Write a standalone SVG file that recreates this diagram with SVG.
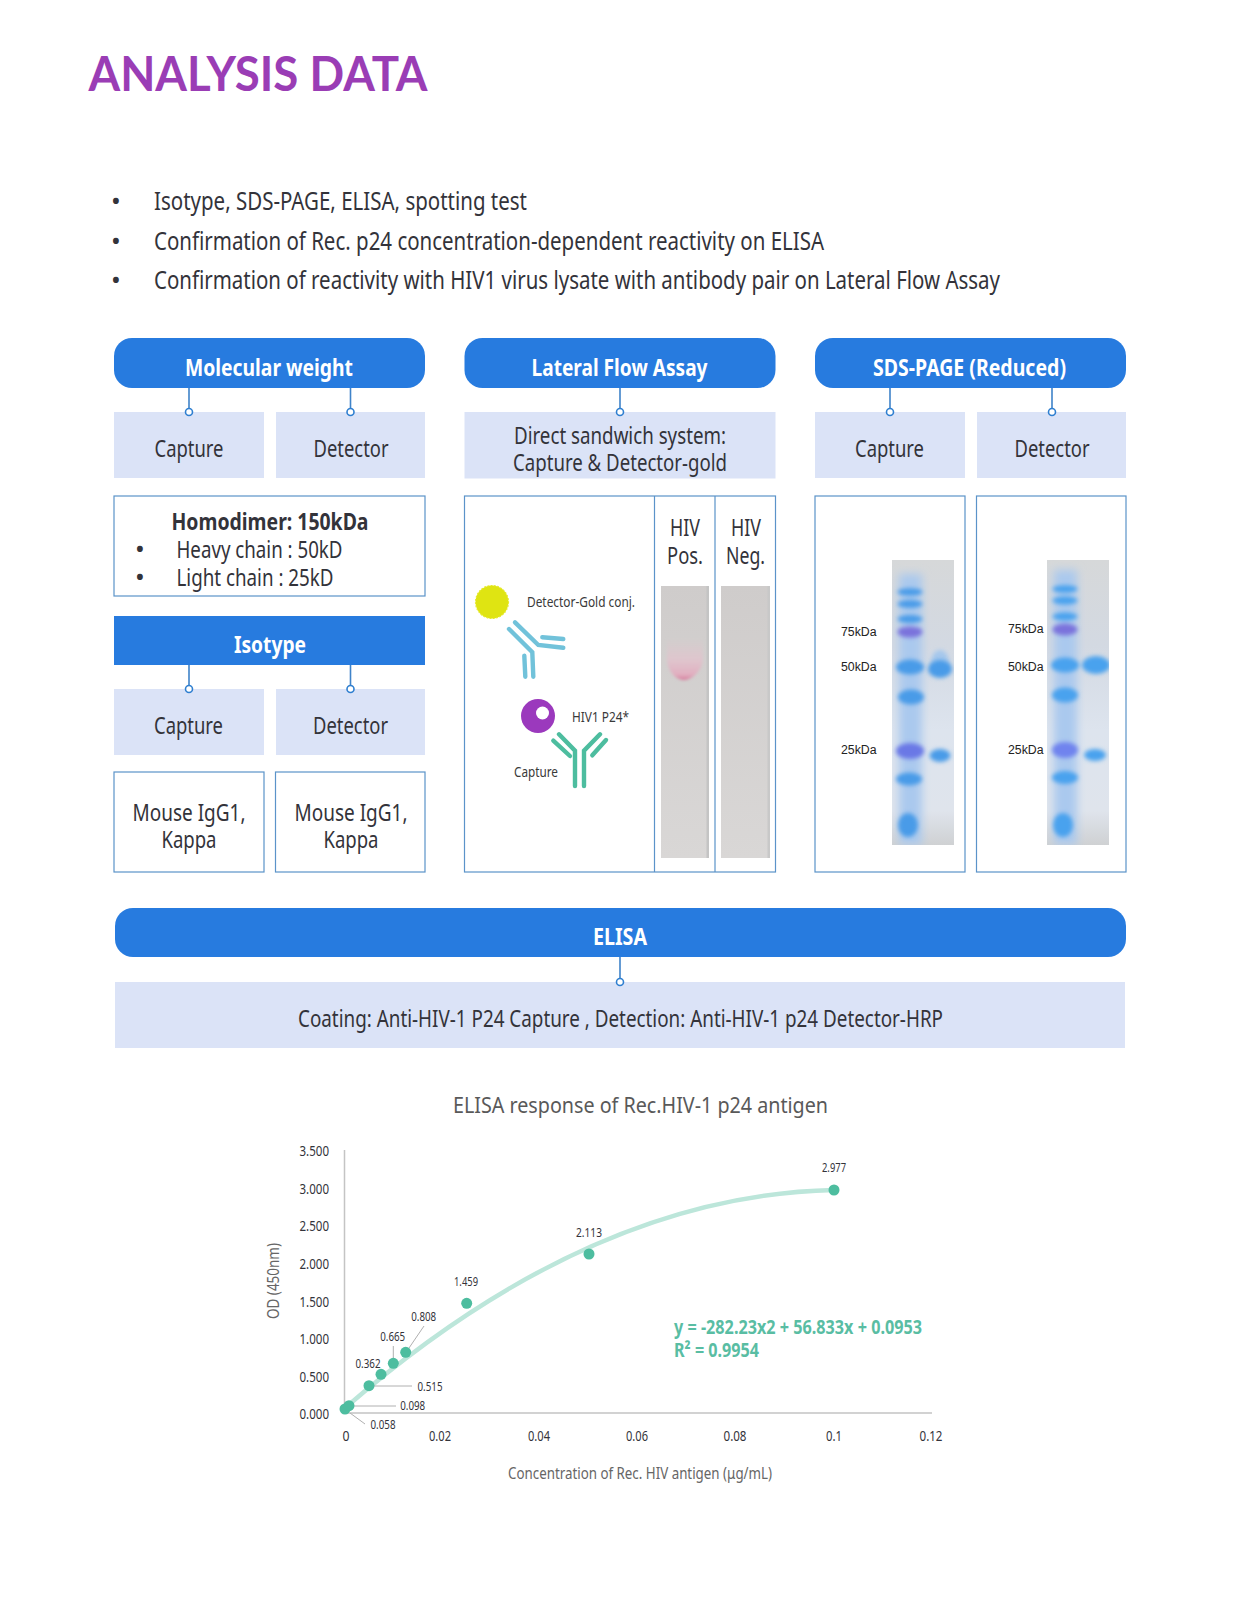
<svg xmlns="http://www.w3.org/2000/svg" width="1241" height="1615" viewBox="0 0 1241 1615">
<defs>
<style>
text{font-family:"Noto Sans","Open Sans",sans-serif;fill:#33333a;}
.hd{fill:#277bdf;}
.sub{fill:#dbe3f7;}
.box{fill:#fff;stroke:#5b93c9;stroke-width:1.2;}
.w{fill:#fff;font-weight:700;font-size:23px;}
.m{font-size:23.5px;}
.c{stroke:#3f83c9;stroke-width:1.6;fill:none;}
.dot{fill:#fff;stroke:#2f7fd0;stroke-width:1.6;}
.tk{font-size:14px;fill:#6f6f6f;}
.dl{font-size:13px;fill:#858585;}
.ld{stroke:#b0b0b0;stroke-width:1;fill:none;}
.pt{fill:#4dbd9f;}
.ax{font-size:16.500px;fill:#666;}
.eq{font-size:20px;font-weight:700;fill:#59bda3;}
.ab{fill:none;stroke-width:4.400;stroke-linecap:round;stroke-linejoin:miter;}
.lb{font-family:"Liberation Sans",Arial,sans-serif;font-size:12.300px;fill:#222;}
.sm{font-size:14.500px;fill:#3a3a3a;}
</style>
<linearGradient id="gel" x1="0" y1="0" x2="0" y2="1">
<stop offset="0" stop-color="#d6d8d9"/><stop offset="0.3" stop-color="#d3d9e2"/><stop offset="0.6" stop-color="#dde4ee"/><stop offset="0.88" stop-color="#dfe4ec"/><stop offset="1" stop-color="#cfd1d3"/>
</linearGradient>
<linearGradient id="strip" x1="0" y1="0" x2="0" y2="1">
<stop offset="0" stop-color="#cfcccb"/><stop offset="1" stop-color="#d9d7d6"/>
</linearGradient>
<linearGradient id="pink" x1="0" y1="0" x2="0" y2="1">
<stop offset="0" stop-color="#e3c3cd" stop-opacity="0"/><stop offset="0.5" stop-color="#e4c2cd" stop-opacity="0.7"/><stop offset="0.88" stop-color="#e1adbf"/><stop offset="1" stop-color="#d5799a"/>
</linearGradient>
<filter id="b1" x="-30%" y="-30%" width="160%" height="160%"><feGaussianBlur stdDeviation="1.500"/></filter>
<filter id="b2" x="-40%" y="-80%" width="180%" height="260%"><feGaussianBlur stdDeviation="1.900"/></filter>
<filter id="b4" x="-50%" y="-20%" width="200%" height="140%"><feGaussianBlur stdDeviation="4"/></filter>
<clipPath id="g1"><rect x="892" y="560" width="62" height="285"/></clipPath>
<clipPath id="g2"><rect x="1047" y="560" width="62" height="285"/></clipPath>
</defs>
<rect width="1241" height="1615" fill="#fff"/>

<text id="title" x="88.500" y="90.500" textLength="339" lengthAdjust="spacingAndGlyphs" style="font-family:Lato,sans-serif;font-weight:700;font-size:47px;fill:#9a3db5">ANALYSIS DATA</text>

<g id="bullets">
<text x="111" y="210" font-size="26">•</text><text x="154" y="210" font-size="24.500" textLength="373" lengthAdjust="spacingAndGlyphs">Isotype, SDS-PAGE, ELISA, spotting test</text>
<text x="111" y="250" font-size="26">•</text><text x="154" y="250" font-size="24.500" textLength="670" lengthAdjust="spacingAndGlyphs">Confirmation of Rec. p24 concentration-dependent reactivity on ELISA</text>
<text x="111" y="289" font-size="26">•</text><text x="154" y="289" font-size="24.500" textLength="846" lengthAdjust="spacingAndGlyphs">Confirmation of reactivity with HIV1 virus lysate with antibody pair on Lateral Flow Assay</text>
</g>

<g id="connectors">
<path class="c" d="M189 388V412M350.500 388V412M620 388V412M890 388V412M1052 388V412M189 665V689M350.500 665V689M620 957V982"/>
</g>

<g id="molecular-weight"><rect class="hd" x="114" y="338" width="311" height="50" rx="18"/><text class="w" x="185" y="376" textLength="168" lengthAdjust="spacingAndGlyphs">Molecular weight</text></g>
<g id="mw-capture"><rect class="sub" x="114" y="412" width="150" height="66"/><text class="m" x="154.500" y="456.500" textLength="69" lengthAdjust="spacingAndGlyphs">Capture</text></g>
<g id="mw-detector"><rect class="sub" x="276" y="412" width="149" height="66"/><text class="m" x="313.500" y="456.500" textLength="75" lengthAdjust="spacingAndGlyphs">Detector</text></g>
<g id="homodimer"><rect class="box" x="114" y="496" width="311" height="100"/>
<text x="171.500" y="530" font-size="23.500" font-weight="700" textLength="197" lengthAdjust="spacingAndGlyphs">Homodimer: 150kDa</text>
<text x="135" y="558" font-size="26">•</text><text class="m" x="176.500" y="557.500" textLength="166" lengthAdjust="spacingAndGlyphs">Heavy chain : 50kD</text>
<text x="135" y="586" font-size="26">•</text><text class="m" x="176.500" y="585.500" textLength="157" lengthAdjust="spacingAndGlyphs">Light chain : 25kD</text></g>
<g id="isotype"><rect class="hd" x="114" y="616" width="311" height="49"/><text class="w" x="234" y="653" textLength="72" lengthAdjust="spacingAndGlyphs">Isotype</text></g>
<g id="iso-capture"><rect class="sub" x="114" y="689" width="150" height="66"/><text class="m" x="154" y="734" textLength="69" lengthAdjust="spacingAndGlyphs">Capture</text></g>
<g id="iso-detector"><rect class="sub" x="276" y="689" width="149" height="66"/><text class="m" x="313" y="734" textLength="75" lengthAdjust="spacingAndGlyphs">Detector</text></g>
<g id="iso-cap-result"><rect class="box" x="114" y="772" width="150" height="100"/><text class="m" x="132.500" y="821" textLength="113" lengthAdjust="spacingAndGlyphs">Mouse IgG1,</text><text class="m" x="161.500" y="848" textLength="55" lengthAdjust="spacingAndGlyphs">Kappa</text></g>
<g id="iso-det-result"><rect class="box" x="275.500" y="772" width="149.500" height="100"/><text class="m" x="294.500" y="821" textLength="113" lengthAdjust="spacingAndGlyphs">Mouse IgG1,</text><text class="m" x="323.500" y="848" textLength="55" lengthAdjust="spacingAndGlyphs">Kappa</text></g>

<g id="lfa"><rect class="hd" x="464.500" y="338" width="311" height="50" rx="18"/><text class="w" x="531.500" y="376" textLength="176" lengthAdjust="spacingAndGlyphs">Lateral Flow Assay</text></g>
<g id="lfa-sub"><rect class="sub" x="464.500" y="412" width="311" height="66.500"/><text class="m" x="514" y="444" textLength="212" lengthAdjust="spacingAndGlyphs">Direct sandwich system:</text><text class="m" x="513" y="471" textLength="214" lengthAdjust="spacingAndGlyphs">Capture &amp; Detector-gold</text></g>
<g id="lfa-panel"><rect class="box" x="464.500" y="496" width="311" height="376"/><path class="box" d="M654.500 496V872M715 496V872" fill="none"/>
<circle cx="492" cy="602" r="16.500" fill="#dfe412" stroke="#e6ea2c" stroke-width="1.200" stroke-dasharray="1.800 1.500"/>
<text class="sm" x="527" y="606.500" textLength="108" lengthAdjust="spacingAndGlyphs">Detector-Gold conj.</text>
<g class="ab" stroke="#71c2da"><path d="M509 629L532.300 652.300L533.300 676.700"/><path d="M515 622.300L538.300 645L563.300 647.700"/><path d="M542.300 637.300L563.300 639"/><path d="M524.300 655.700L525.300 676.700"/></g>
<circle cx="538" cy="716" r="17" fill="#9b39bd"/><circle cx="542.500" cy="713" r="6.500" fill="#fff"/>
<text class="sm" x="572" y="722" textLength="57" lengthAdjust="spacingAndGlyphs">HIV1 P24*</text>
<text class="sm" x="514" y="777" textLength="44" lengthAdjust="spacingAndGlyphs">Capture</text>
<g class="ab" stroke="#4dbd9f"><path d="M559 734.300L575 750.700V786"/><path d="M553.300 740.700L570 756"/><path d="M600 734.300L584 750.700V786"/><path d="M606 740L592.300 755.300"/></g>
<text class="m" x="670" y="536" textLength="30" lengthAdjust="spacingAndGlyphs">HIV</text><text class="m" x="667" y="564" textLength="36" lengthAdjust="spacingAndGlyphs">Pos.</text>
<text class="m" x="731" y="536" textLength="30" lengthAdjust="spacingAndGlyphs">HIV</text><text class="m" x="726" y="564" textLength="39" lengthAdjust="spacingAndGlyphs">Neg.</text>
<rect x="661" y="586" width="48" height="272" fill="url(#strip)"/>
<rect x="706.500" y="586" width="2.500" height="272" fill="#c4c4c4"/>
<path d="M667 638H703V658C703 670 692 680 684 680C675 680 667 670 667 658Z" fill="url(#pink)" filter="url(#b1)"/>
<rect x="721" y="586" width="49" height="272" fill="url(#strip)"/>
<rect x="767.500" y="586" width="2.500" height="272" fill="#c8c8c8"/>
</g>

<g id="sds"><rect class="hd" x="815" y="338" width="311" height="50" rx="18"/><text class="w" x="873" y="376" textLength="193" lengthAdjust="spacingAndGlyphs">SDS-PAGE (Reduced)</text></g>
<g id="sds-capture"><rect class="sub" x="815" y="412" width="150" height="66"/><text class="m" x="855" y="456.500" textLength="69" lengthAdjust="spacingAndGlyphs">Capture</text></g>
<g id="sds-detector"><rect class="sub" x="977" y="412" width="149" height="66"/><text class="m" x="1014.500" y="456.500" textLength="75" lengthAdjust="spacingAndGlyphs">Detector</text></g>
<g id="sds-cap-panel"><rect class="box" x="815" y="496" width="150" height="376"/>
<rect x="892" y="560" width="62" height="285" fill="url(#gel)"/>
<g clip-path="url(#g1)">
<rect x="899" y="574" width="23" height="271" fill="#aac9ee" filter="url(#b4)"/>
<g fill="#4a9be8" filter="url(#b2)">
<ellipse cx="910" cy="592" rx="12.500" ry="3.800"/><ellipse cx="910" cy="604" rx="12.500" ry="4"/><ellipse cx="910" cy="619" rx="12.500" ry="4"/>
<ellipse cx="910" cy="632" rx="12.500" ry="5.500" fill="#7a72dc"/><ellipse cx="910" cy="667" rx="14" ry="7.500"/><ellipse cx="911" cy="697" rx="13" ry="7.500"/>
<ellipse cx="910" cy="751" rx="14" ry="8" fill="#6a78e6"/><ellipse cx="909" cy="779" rx="13" ry="6.500"/><ellipse cx="908" cy="825" rx="10" ry="12"/>
<ellipse cx="940" cy="755.500" rx="10.500" ry="6.500"/></g>
<ellipse cx="940" cy="662" rx="9" ry="12" fill="#a5c7ec" filter="url(#b2)"/>
<ellipse cx="940" cy="669" rx="12" ry="9" fill="#4a9be8" filter="url(#b2)"/>
</g>
<text class="lb" x="841" y="636">75kDa</text><text class="lb" x="841" y="671">50kDa</text><text class="lb" x="841" y="754">25kDa</text></g>
<g id="sds-det-panel"><rect class="box" x="976.500" y="496" width="149.500" height="376"/>
<rect x="1047" y="560" width="62" height="285" fill="url(#gel)"/>
<g clip-path="url(#g2)">
<rect x="1054" y="570" width="23" height="275" fill="#aac9ee" filter="url(#b4)"/>
<g fill="#4aa2ee" filter="url(#b2)">
<ellipse cx="1065" cy="589" rx="12.500" ry="3.800"/><ellipse cx="1065" cy="600.500" rx="12.500" ry="4"/><ellipse cx="1065" cy="616.500" rx="12.500" ry="4"/>
<ellipse cx="1065" cy="629.500" rx="12.500" ry="6" fill="#7a72dc"/><ellipse cx="1065" cy="665" rx="14" ry="7.500"/><ellipse cx="1065" cy="695" rx="13" ry="7.500"/>
<ellipse cx="1065" cy="750" rx="13" ry="8" fill="#6f83ee"/><ellipse cx="1065" cy="777.500" rx="13" ry="6.500"/><ellipse cx="1063" cy="825" rx="10" ry="12"/>
<ellipse cx="1096" cy="665" rx="14" ry="9"/><ellipse cx="1095" cy="755" rx="11" ry="6"/></g>
</g>
<text class="lb" x="1008" y="633">75kDa</text><text class="lb" x="1008" y="671">50kDa</text><text class="lb" x="1008" y="754">25kDa</text></g>

<g id="elisa"><rect class="hd" x="115" y="908" width="1011" height="49" rx="18"/><text class="w" x="593" y="945" textLength="54" lengthAdjust="spacingAndGlyphs">ELISA</text></g>
<g id="elisa-sub"><rect class="sub" x="115" y="982" width="1010" height="66"/><text class="m" x="298" y="1027" textLength="645" lengthAdjust="spacingAndGlyphs">Coating: Anti-HIV-1 P24 Capture , Detection: Anti-HIV-1 p24 Detector-HRP</text></g>

<g id="connector-dots">
<circle class="dot" cx="189" cy="412" r="3.500"/><circle class="dot" cx="350.500" cy="412" r="3.500"/><circle class="dot" cx="620" cy="412" r="3.500"/><circle class="dot" cx="890" cy="412" r="3.500"/><circle class="dot" cx="1052" cy="412" r="3.500"/><circle class="dot" cx="189" cy="689" r="3.500"/><circle class="dot" cx="350.500" cy="689" r="3.500"/><circle class="dot" cx="620" cy="982" r="3.500"/>
</g>

<g id="chart">
<text x="453" y="1112.500" font-size="22.500" style="fill:#595959" textLength="375" lengthAdjust="spacingAndGlyphs">ELISA response of Rec.HIV-1 p24 antigen</text>
<path d="M344.500 1150V1413H932" fill="none" stroke="#c4c4c4" stroke-width="1.500"/>
<g class="tk" text-anchor="end">
<text x="329" y="1156" textLength="29.500" lengthAdjust="spacingAndGlyphs">3.500</text><text x="329" y="1194" textLength="29.500" lengthAdjust="spacingAndGlyphs">3.000</text><text x="329" y="1231" textLength="29.500" lengthAdjust="spacingAndGlyphs">2.500</text><text x="329" y="1269" textLength="29.500" lengthAdjust="spacingAndGlyphs">2.000</text><text x="329" y="1307" textLength="29.500" lengthAdjust="spacingAndGlyphs">1.500</text><text x="329" y="1344" textLength="29.500" lengthAdjust="spacingAndGlyphs">1.000</text><text x="329" y="1382" textLength="29.500" lengthAdjust="spacingAndGlyphs">0.500</text><text x="329" y="1419" textLength="29.500" lengthAdjust="spacingAndGlyphs">0.000</text>
</g>
<g class="tk" text-anchor="middle">
<text x="346" y="1441" textLength="7" lengthAdjust="spacingAndGlyphs">0</text><text x="440" y="1441" textLength="22" lengthAdjust="spacingAndGlyphs">0.02</text><text x="539" y="1441" textLength="22" lengthAdjust="spacingAndGlyphs">0.04</text><text x="637" y="1441" textLength="22" lengthAdjust="spacingAndGlyphs">0.06</text><text x="735" y="1441" textLength="23" lengthAdjust="spacingAndGlyphs">0.08</text><text x="834" y="1441" textLength="16" lengthAdjust="spacingAndGlyphs">0.1</text><text x="931" y="1441" textLength="23" lengthAdjust="spacingAndGlyphs">0.12</text>
</g>
<path d="M345 1408Q590 1195 834 1190" fill="none" stroke="#bce6da" stroke-width="4.500"/>
<path class="ld" d="M424 1326L409 1348M393.300 1346V1358M374 1386H412M353 1406H396M350 1413L365 1424"/>
<g class="pt">
<circle cx="345" cy="1409" r="5.500"/><circle cx="349" cy="1405.700" r="5.500"/><circle cx="369" cy="1385.700" r="5.500"/><circle cx="381" cy="1374.300" r="5.500"/><circle cx="393.300" cy="1363.300" r="5.500"/><circle cx="405.700" cy="1352.300" r="5.500"/><circle cx="466.700" cy="1303.300" r="5.500"/><circle cx="589" cy="1254" r="5.500"/><circle cx="834" cy="1190" r="5.500"/>
</g>
<g class="dl" text-anchor="middle">
<text x="834" y="1172" textLength="24" lengthAdjust="spacingAndGlyphs">2.977</text><text x="589" y="1237" textLength="26" lengthAdjust="spacingAndGlyphs">2.113</text><text x="466" y="1286" textLength="24" lengthAdjust="spacingAndGlyphs">1.459</text><text x="423.700" y="1321" textLength="25" lengthAdjust="spacingAndGlyphs">0.808</text><text x="392.700" y="1341" textLength="25" lengthAdjust="spacingAndGlyphs">0.665</text><text x="368" y="1368" textLength="25" lengthAdjust="spacingAndGlyphs">0.362</text><text x="430" y="1391" textLength="25" lengthAdjust="spacingAndGlyphs">0.515</text><text x="412.700" y="1410" textLength="25" lengthAdjust="spacingAndGlyphs">0.098</text><text x="383" y="1429" textLength="25" lengthAdjust="spacingAndGlyphs">0.058</text>
</g>
<text class="ax" transform="translate(279 1319) rotate(-90)" textLength="76" lengthAdjust="spacingAndGlyphs">OD (450nm)</text>
<text class="ax" x="508" y="1479" textLength="264" lengthAdjust="spacingAndGlyphs">Concentration of Rec. HIV antigen (μg/mL)</text>
<text class="eq" x="674" y="1334" textLength="248" lengthAdjust="spacingAndGlyphs">y = -282.23x2 + 56.833x + 0.0953</text>
<text class="eq" x="674" y="1356.500" textLength="85" lengthAdjust="spacingAndGlyphs">R² = 0.9954</text>
</g>
</svg>
